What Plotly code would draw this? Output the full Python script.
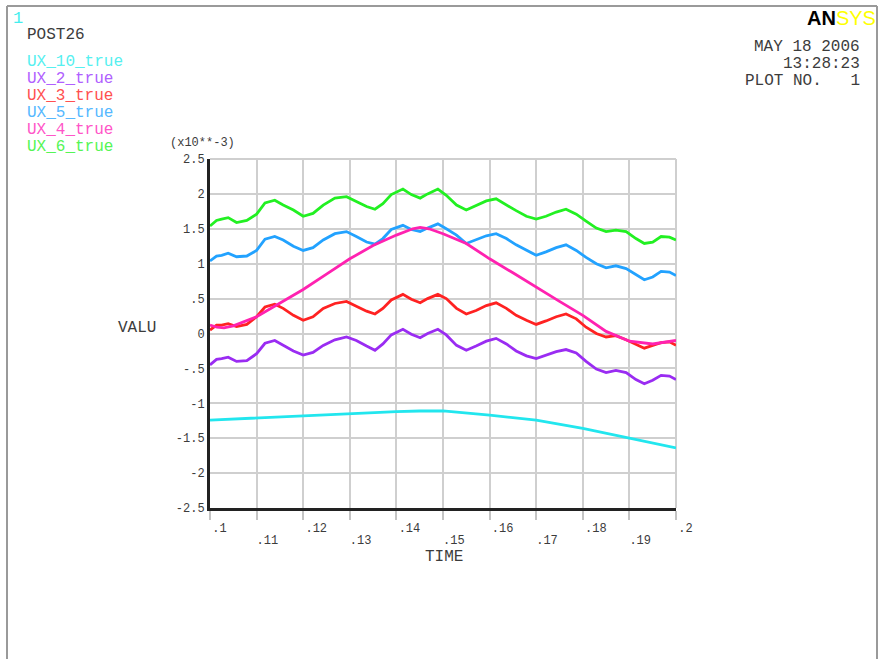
import plotly.graph_objects as go

# ---- data -------------------------------------------------------------
# common time base of the rippled displacement histories
time = [0.1, 0.1014, 0.1025, 0.1039, 0.1057, 0.1079, 0.11, 0.1118, 0.1139,
        0.1157, 0.1179, 0.12, 0.1221, 0.1243, 0.1268, 0.1293, 0.1314, 0.1336,
        0.1354, 0.1371, 0.1389, 0.1414, 0.1432, 0.1451, 0.1467, 0.1489,
        0.1507, 0.1529, 0.155, 0.1571, 0.1593, 0.1614, 0.1636, 0.1657,
        0.1679, 0.17, 0.1721, 0.1743, 0.1764, 0.1786, 0.1807, 0.1829, 0.185,
        0.1871, 0.1893, 0.1914, 0.1932, 0.195, 0.1968, 0.1986, 0.2]

ux6 = [1.54, 1.62, 1.64, 1.66, 1.59, 1.62, 1.71, 1.87, 1.91, 1.84, 1.77,
       1.68, 1.72, 1.84, 1.94, 1.96, 1.89, 1.82, 1.78, 1.86, 1.99, 2.07,
       1.99, 1.94, 2.00, 2.07, 1.98, 1.84, 1.77, 1.83, 1.90, 1.93, 1.84,
       1.76, 1.68, 1.64, 1.68, 1.74, 1.78, 1.71, 1.61, 1.51, 1.46, 1.48,
       1.46, 1.36, 1.29, 1.31, 1.39, 1.38, 1.34]

ux5 = [1.04, 1.11, 1.12, 1.15, 1.10, 1.11, 1.19, 1.35, 1.39, 1.34, 1.25,
       1.19, 1.23, 1.34, 1.43, 1.46, 1.39, 1.31, 1.28, 1.36, 1.49, 1.55,
       1.49, 1.46, 1.51, 1.57, 1.50, 1.41, 1.29, 1.34, 1.40, 1.43, 1.36,
       1.27, 1.19, 1.12, 1.17, 1.23, 1.27, 1.19, 1.09, 1.00, 0.94, 0.97,
       0.93, 0.85, 0.77, 0.81, 0.89, 0.88, 0.83]

ux3 = [0.05, 0.12, 0.12, 0.14, 0.10, 0.13, 0.24, 0.38, 0.42, 0.36, 0.26,
       0.19, 0.24, 0.36, 0.43, 0.46, 0.39, 0.32, 0.28, 0.36, 0.48, 0.56,
       0.49, 0.44, 0.50, 0.56, 0.50, 0.36, 0.28, 0.33, 0.40, 0.44, 0.36,
       0.26, 0.19, 0.13, 0.18, 0.24, 0.28, 0.21, 0.09, 0.00, -0.05, -0.03,
       -0.09, -0.15, -0.21, -0.17, -0.13, -0.12, -0.17]

ux2 = [-0.45, -0.37, -0.36, -0.34, -0.40, -0.39, -0.29, -0.14, -0.10, -0.17,
       -0.25, -0.31, -0.27, -0.17, -0.09, -0.05, -0.10, -0.18, -0.24, -0.15,
       -0.02, 0.06, -0.01, -0.06, 0.00, 0.06, -0.02, -0.17, -0.24, -0.18,
       -0.11, -0.07, -0.15, -0.25, -0.32, -0.36, -0.31, -0.26, -0.23, -0.28,
       -0.40, -0.51, -0.56, -0.53, -0.56, -0.66, -0.72, -0.67, -0.60, -0.61,
       -0.66]

# smooth histories
time4 = [0.1, 0.1015, 0.103, 0.105, 0.11, 0.115, 0.12, 0.125, 0.13, 0.135,
         0.14, 0.1435, 0.1451, 0.147, 0.15, 0.155, 0.16, 0.165, 0.17, 0.175,
         0.18, 0.185, 0.19, 0.195, 0.2]
ux4 = [0.12, 0.09, 0.08, 0.11, 0.24, 0.43, 0.63, 0.85, 1.07, 1.26, 1.41,
       1.50, 1.52, 1.50, 1.43, 1.29, 1.07, 0.87, 0.66, 0.46, 0.26, 0.03,
       -0.11, -0.15, -0.10]

time10 = [0.1, 0.11, 0.12, 0.13, 0.14, 0.145, 0.15, 0.16, 0.17, 0.18, 0.19,
          0.2]
ux10 = [-1.24, -1.21, -1.18, -1.14, -1.12, -1.11, -1.11, -1.17, -1.24, -1.36,
        -1.50, -1.64]

# axis ticks
y_ticks = [2.5, 2.0, 1.5, 1.0, 0.5, 0.0, -0.5, -1.0, -1.5, -2.0, -2.5]
y_labels = ["2.5", "2", "1.5", "1", ".5", "0", "-.5", "-1", "-1.5", "-2", "-2.5"]
x_grid = [0.1, 0.11, 0.12, 0.13, 0.14, 0.15, 0.16, 0.17, 0.18, 0.19, 0.2]
x_grid_labels = [".1", "", ".12", "", ".14", "", ".16", "", ".18", "", ".2"]
x_odd = [0.11, 0.13, 0.15, 0.17, 0.19]
x_odd_labels = [".11", ".13", ".15", ".17", ".19"]

names = ["UX_10_true", "UX_2_true", "UX_3_true", "UX_5_true", "UX_4_true",
         "UX_6_true"]
line_colors = ["#22e6ee", "#9a2cf2", "#ff2222", "#22a2ff", "#ff22b0", "#22f022"]
label_colors = ["#55f0f0", "#b060ff", "#ff5050", "#55b8ff", "#ff55c8", "#55f555"]

# ---- page geometry (pixels) -------------------------------------------
W, H = 882, 659
PL, PR, PT, PB = 210, 676, 159, 508   # plot area edges


def px(x):
    return (x - PL) / (PR - PL)


def py(y):
    return (PB - y) / (PB - PT)


MONO = "Liberation Mono, Courier New, monospace"
INK = "#3c3c3c"

fig = go.Figure()

series = [(time10, ux10), (time, ux2), (time, ux3), (time, ux5),
          (time4, ux4), (time, ux6)]
for i, ((t, v), nm, col) in enumerate(zip(series, names, line_colors)):
    fig.add_trace(go.Scatter(
        x=t, y=v, mode="lines", name=nm,
        line=dict(color=col, width=2.8),
        xaxis="x2" if i == 0 else "x",
        showlegend=False, hoverinfo="skip"))

fig.update_layout(
    width=W, height=H,
    margin=dict(l=PL, r=W - PR, t=PT, b=H - PB),
    paper_bgcolor="white", plot_bgcolor="white",
    showlegend=False,
    xaxis=dict(
        range=[0.1, 0.2], tickmode="array", tickvals=x_grid,
        ticktext=x_grid_labels,
        ticks="outside", ticklen=9, tickcolor="#c4c4c4", tickwidth=1.5,
        ticklabelposition="outside right", ticklabelstandoff=7,
        showgrid=True, gridcolor="#cfcfcf", gridwidth=2,
        showline=True, linecolor="#222222", linewidth=3,
        zeroline=False,
        tickfont=dict(family=MONO, size=12, color=INK)),
    xaxis2=dict(
        range=[0.1, 0.2], overlaying="x", side="bottom", matches="x",
        tickmode="array", tickvals=x_odd, ticktext=x_odd_labels,
        ticks="", ticklabelposition="outside right", ticklabelstandoff=23,
        showgrid=False, showline=False, zeroline=False,
        tickfont=dict(family=MONO, size=12, color=INK)),
    yaxis=dict(
        range=[-2.5, 2.5], tickmode="array", tickvals=y_ticks,
        ticktext=y_labels, ticks="",
        showgrid=True, gridcolor="#cfcfcf", gridwidth=2,
        showline=True, linecolor="#222222", linewidth=3,
        zeroline=False, ticklabelstandoff=0,
        tickfont=dict(family=MONO, size=12, color=INK)),
)

# outer frame of the graphics window
frame = dict(type="line", xref="paper", yref="paper",
             line=dict(color="#9a9a9a", width=2))
fig.add_shape(x0=px(7), x1=px(7), y0=py(6), y1=py(H + 5), **frame)
fig.add_shape(x0=px(7), x1=px(877), y0=py(6), y1=py(6), **frame)
fig.add_shape(x0=px(877), x1=px(877), y0=py(6), y1=py(H + 5), **frame)
# top and right edges of the grid
edge = dict(type="line", xref="paper", yref="paper",
            line=dict(color="#cfcfcf", width=2))
fig.add_shape(x0=0, x1=1, y0=1, y1=1, layer="below", **edge)
fig.add_shape(x0=1, x1=1, y0=0, y1=1, layer="below", **edge)


def text(s, x, y, size=16, color=INK, anchor="left", family=MONO):
    fig.add_annotation(text=s, x=px(x), y=py(y), xref="paper", yref="paper",
                       xanchor=anchor, yanchor="middle", showarrow=False,
                       font=dict(family=family, size=size, color=color))


text("1", 11, 19, size=17, color="#44eeee")
text("POST26", 25, 35)
for k, (nm, col) in enumerate(zip(names, label_colors)):
    text(nm, 25, 62 + 17 * k, color=col)

text("(x10**-3)", 168, 143, size=12)
text("VALU", 116, 328)
text("TIME", 423, 557)

text("<b>AN</b><span style='color:#ffff00'>SYS</span>", 878, 18, size=20,
     color="#000000", anchor="right", family="Liberation Sans, Arial")
text("MAY 18 2006", 862, 47, anchor="right")
text("13:28:23", 862, 64, anchor="right")
text("PLOT NO.\u00a0\u00a0\u00a01", 862, 81, anchor="right")

fig.write_html("out.html")
